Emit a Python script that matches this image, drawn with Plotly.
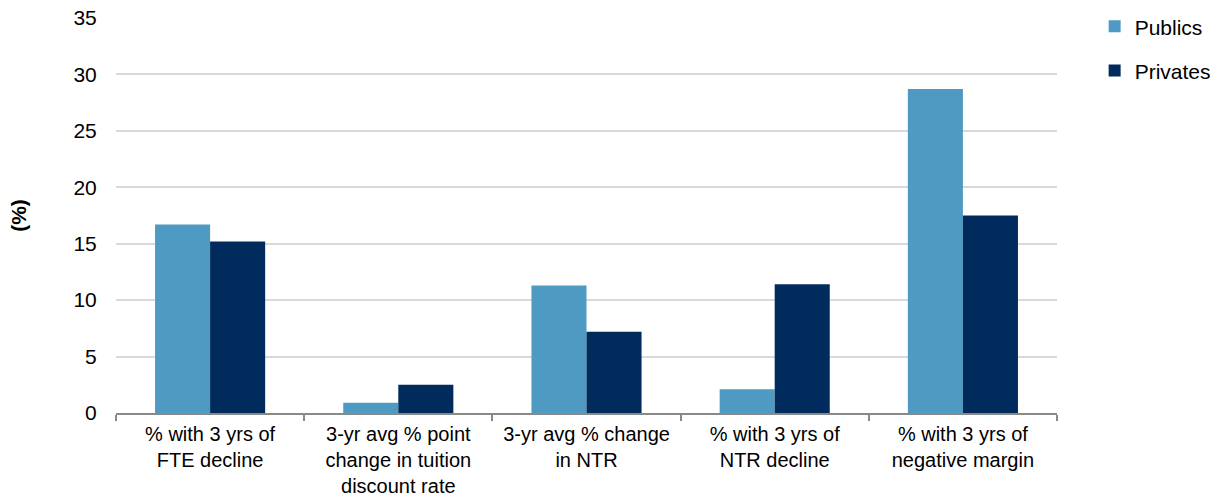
import plotly.graph_objects as go

categories = [
    "% with 3 yrs of<br>FTE decline",
    "3-yr avg % point<br>change in tuition<br>discount rate",
    "3-yr avg % change<br>in NTR",
    "% with 3 yrs of<br>NTR decline",
    "% with 3 yrs of<br>negative margin",
]
publics = [16.7, 0.9, 11.3, 2.1, 28.7]
privates = [15.2, 2.5, 7.2, 11.4, 17.5]
y_ticks = [0, 5, 10, 15, 20, 25, 30, 35]

FONT = "Liberation Sans, Arial, sans-serif"
FS = 21

fig = go.Figure()
fig.add_trace(go.Bar(name="Publics", x=categories, y=publics,
                     marker=dict(color="#4F9AC2", line=dict(width=0)),
                     legendgroup="a"))
fig.add_trace(go.Bar(name="Privates", x=categories, y=privates,
                     marker=dict(color="#002B5C", line=dict(width=0)),
                     legendgroup="b"))

fig.update_layout(
    width=1216, height=499,
    margin=dict(l=116, r=159, t=18, b=86, autoexpand=False),
    paper_bgcolor="white", plot_bgcolor="white",
    barmode="group", bargap=0.415, bargroupgap=0,
    font=dict(family=FONT, size=FS, color="#000000"),
    legend=dict(x=1.04, y=1.03, xanchor="left", yanchor="top",
                traceorder="grouped", tracegroupgap=14,
                font=dict(size=FS), itemwidth=30),
    xaxis=dict(type="category", showline=True, linecolor="#898989", linewidth=2,
               ticks="outside", tickson="boundaries", ticklen=6, tickwidth=2,
               tickcolor="#898989", showgrid=False, ticklabelstandoff=2,
               tickangle=0, automargin=False,
               tickfont=dict(size=20)),
    yaxis=dict(range=[0, 35], tickvals=y_ticks, showgrid=True,
               gridcolor="#D9D9D9", gridwidth=2, zeroline=False,
               showline=False, ticks="outside", ticklen=14, tickcolor="white",
               tickfont=dict(size=FS), automargin=False,
               title=dict(text="<b>(%)</b>", font=dict(size=FS), standoff=41)),
)

fig.write_html("out.html")
